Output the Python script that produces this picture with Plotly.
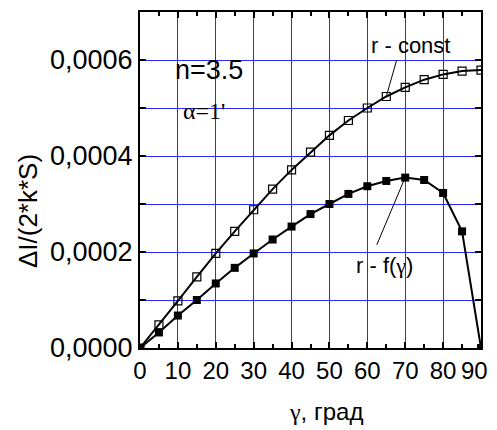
import plotly.graph_objects as go

gamma = [0, 5, 10, 15, 20, 25, 30, 35, 40, 45, 50, 55, 60, 65, 70, 75, 80, 85, 90]
r_const = [0, 0.0000483, 0.000098, 0.000148, 0.000197, 0.000243, 0.000288, 0.000331, 0.000371,
           0.000408, 0.000443, 0.000474, 0.000500, 0.000524, 0.000543, 0.000559, 0.000570, 0.000577, 0.000579]
r_f = [0, 0.0000324, 0.0000676, 0.000100, 0.0001345, 0.000167, 0.000197, 0.000226, 0.000253,
       0.000279, 0.000300, 0.000321, 0.000337, 0.000348, 0.000355, 0.000350, 0.000323, 0.000243, 0.0]
x_tickvals = [0, 10, 20, 30, 40, 50, 60, 70, 80, 90]
x_ticktext = ["0", "10", "20", "30", "40", "50", "60", "70", "80", "90\u00a0\u00a0"]

SANS = "Liberation Sans, Arial"
SERIF = "Liberation Serif, Times New Roman"
GRID = "#2a2aff"

fig = go.Figure()
fig.add_trace(go.Scatter(x=gamma, y=r_const, mode="lines+markers",
                         line=dict(color="black", width=2),
                         marker=dict(symbol="square-open", size=8, color="black", line=dict(width=1.2)),
                         showlegend=False))
fig.add_trace(go.Scatter(x=gamma, y=r_f, mode="lines+markers",
                         line=dict(color="black", width=2),
                         marker=dict(symbol="square", size=8, color="black"),
                         showlegend=False))

axis_common = dict(showline=True, linecolor="black", linewidth=2, mirror="ticks",
                   ticks="inside", ticklen=6, tickwidth=2, tickcolor="black",
                   showgrid=True, gridcolor=GRID, gridwidth=1.2, zeroline=False, automargin=False,
                   ticklabeloverflow="allow")

fig.update_xaxes(range=[0, 90], tickvals=x_tickvals, ticktext=x_ticktext,
                 minor=dict(dtick=5, tick0=0, ticks="inside", ticklen=4, tickwidth=2, tickcolor="black",
                            showgrid=False),
                 tickfont=dict(family=SANS, size=24, color="black"),
                 **axis_common)
fig.update_yaxes(range=[0, 0.0007], dtick=0.0002, tick0=0, tickformat=".4f",
                 minor=dict(dtick=0.0001, ticks="inside", ticklen=6, tickwidth=2, tickcolor="black",
                            showgrid=True, gridcolor=GRID, gridwidth=1.2),
                 tickfont=dict(family=SANS, size=27, color="black"),
                 **axis_common)

# axis titles
fig.add_annotation(xref="paper", yref="paper", x=0.545, y=-0.1875, xanchor="center", yanchor="middle",
                   text='<span style="font-family:Liberation Serif">γ</span>, град',
                   showarrow=False, font=dict(family=SANS, size=24, color="black"))
fig.add_annotation(xref="paper", yref="paper", x=-0.328, y=0.408, xanchor="center", yanchor="middle",
                   textangle=-90, text="ΔI/(2*k*S)", showarrow=False,
                   font=dict(family=SANS, size=26, color="black"))

# in-plot labels
fig.add_annotation(xref="x", yref="y", x=18.2, y=0.000579, text="n=3.5", showarrow=False,
                   font=dict(family=SANS, size=27, color="black"))
fig.add_annotation(xref="x", yref="y", x=16.8, y=0.000494, text="α=1'", showarrow=False,
                   font=dict(family=SERIF, size=24, color="black"))
fig.add_annotation(xref="x", yref="y", x=71.3, y=0.000631, text="r - const", showarrow=False,
                   font=dict(family=SANS, size=22, color="black"))
fig.add_annotation(xref="x", yref="y", x=64.5, y=0.000171,
                   text='r - f(<span style="font-family:Liberation Serif">γ</span>)',
                   showarrow=False, font=dict(family=SANS, size=22, color="black"))
fig.add_shape(type="line", xref="x", yref="y", x0=67.75, y0=0.0006, x1=65.1, y1=0.000527,
              line=dict(color="black", width=1))
fig.add_shape(type="line", xref="x", yref="y", x0=62.5, y0=0.000215, x1=69.7, y1=0.00035,
              line=dict(color="black", width=1))

# page body has an 8px margin: size the figure so the plot lands where the reference has it
fig.update_layout(width=489, height=422, margin=dict(l=132, r=16, t=4, b=82),
                  plot_bgcolor="white", paper_bgcolor="white", separators=",.",
                  font=dict(family=SANS, color="black"))
fig.write_html("out.html")
